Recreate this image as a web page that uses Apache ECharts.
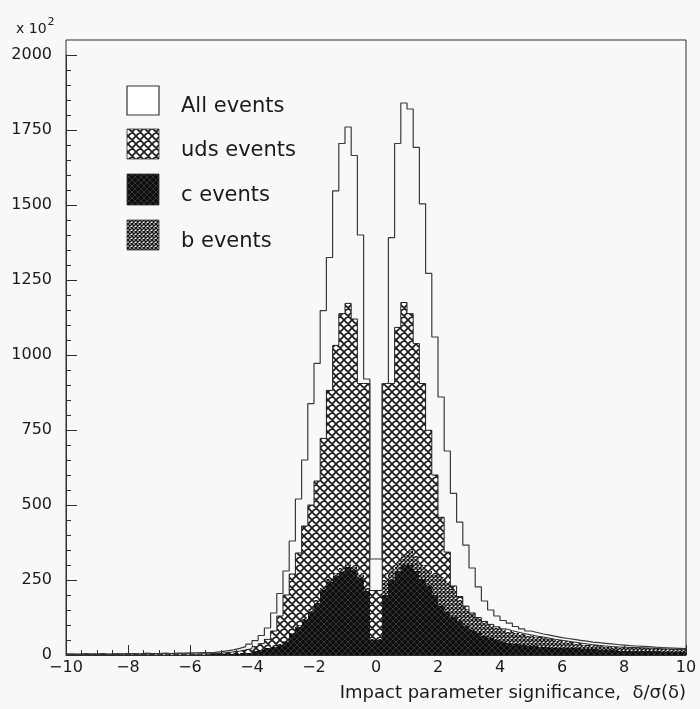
<!DOCTYPE html>
<html><head><meta charset="utf-8">
<script src="https://cdn.jsdelivr.net/npm/echarts/dist/echarts.min.js"></script>
<style>html,body{margin:0;padding:0;background:#f8f8f8;}#c{width:700px;height:709px;}</style>
</head><body><div id="c"></div>
<script>
// Histogram binning (100 bins of width 0.2 from -10 to 10)
const binStart = -10;
const binWidth = 0.2;

// Bin contents (x 10^2 events)
const allEvents = [
  4,3,5,4,4,5,3,5,4,5,
  5,4,6,5,5,6,5,6,6,7,
  7,8,8,9,11,14,17,22,28,36,
  48,65,90,140,205,280,380,520,650,838,
  972,1148,1325,1547,1705,1760,1665,1400,920,320,
  320,905,1391,1705,1840,1820,1692,1504,1272,1060,
  860,680,539,443,366,290,227,180,150,130,
  115,106,95,87,80,75,70,66,62,58,
  55,52,49,46,43,41,39,37,35,33,
  31,30,29,28,26,25,24,23,22,21
];
const udsEvents = [
  1,1,2,1,1,2,1,2,2,2,
  2,2,2,2,3,3,3,3,3,3,
  2,3,3,3,4,5,6,8,11,13,
  15,21,28,50,92,152,196,240,307,348,
  397,497,627,760,849,865,823,636,680,160,
  160,655,620,782,840,788,708,605,469,330,
  199,98,14,10,8,7,5,4,4,4,
  4,4,4,4,4,3,3,3,3,3,
  3,3,3,3,3,3,3,2,2,2,
  1,2,1,1,1,1,1,2,1,2
];
const cEvents = [
  0,1,0,1,1,0,1,0,1,1,
  1,1,1,1,1,1,1,1,1,1,
  1,1,1,2,2,3,4,5,6,8,
  12,16,22,28,35,45,70,95,117,145,
  175,216,245,262,278,295,285,258,215,50,
  50,200,250,280,300,300,280,255,230,200,
  165,145,128,112,98,85,73,64,57,51,
  45,40,37,34,31,29,27,26,25,24,
  23,23,22,21,20,19,18,17,16,15,
  14,14,13,13,12,12,11,11,10,10
];
const bEvents = [
  0,0,0,0,0,0,0,0,0,0,
  0,0,0,0,0,0,0,0,0,0,
  0,0,0,0,0,0,0,0,0,0,
  1,1,2,2,3,3,4,5,6,7,
  8,9,10,10,11,12,12,11,10,5,
  5,50,35,30,35,50,50,45,50,70,
  95,100,88,73,57,48,47,44,41,39,
  38,37,35,33,32,31,30,27,24,22,
  20,17,15,13,11,10,9,9,9,9,
  10,9,10,9,9,8,8,6,7,6
];
const legendLabels = ['All events', 'uds events', 'c events', 'b events'];
const xTitle = 'Impact parameter significance,  \u03b4/\u03c3(\u03b4)';

const FONT = '"DejaVu Sans", sans-serif';
const nBins = allEvents.length;
const edge = k => +(binStart + k * binWidth).toFixed(4);

function hatch(size, lw, color, bg) {
  const cv = document.createElement('canvas');
  cv.width = size; cv.height = size;
  const ctx = cv.getContext('2d');
  if (bg) { ctx.fillStyle = bg; ctx.fillRect(0, 0, size, size); }
  ctx.strokeStyle = color; ctx.lineWidth = lw;
  ctx.beginPath();
  for (const o of [-size, 0, size]) {
    ctx.moveTo(o, 0); ctx.lineTo(o + size, size);
    ctx.moveTo(o + size, 0); ctx.lineTo(o, size);
  }
  ctx.stroke();
  return { image: cv, repeat: 'repeat' };
}
const udsPat = hatch(8, 1.7, '#1e1e1e', '#f8f8f8');
const cPat = hatch(6, 1, '#333333', '#0e0e0e');
const bPat = hatch(4, 1.4, '#141414', '#ececec');

// cumulative stack: c at bottom, b above, uds on top
const lowC = [], highC = [], lowB = [], highB = [], lowU = [], highU = [];
for (let k = 0; k < nBins; k++) {
  lowC.push(0); highC.push(cEvents[k]);
  lowB.push(cEvents[k]); highB.push(cEvents[k] + bEvents[k]);
  lowU.push(cEvents[k] + bEvents[k]); highU.push(cEvents[k] + bEvents[k] + udsEvents[k]);
}

function fillSeries(low, high, pat, z) {
  const data = [];
  for (let k = 0; k < nBins; k++) data.push([edge(k), edge(k + 1), low[k], high[k]]);
  return {
    type: 'custom', xAxisIndex: 0, yAxisIndex: 0, z: z, clip: true,
    encode: { x: [0, 1], y: [2, 3] },
    data: data,
    renderItem: function (params, api) {
      const p0 = api.coord([api.value(0), api.value(3)]);
      const p1 = api.coord([api.value(1), api.value(2)]);
      const x0 = Math.round(p0[0]), x1 = Math.round(p1[0]);
      const y0 = Math.round(p0[1]), y1 = Math.round(p1[1]);
      if (y1 - y0 <= 0) return null;
      return { type: 'rect', shape: { x: x0, y: y0, width: x1 - x0, height: y1 - y0 }, style: { fill: pat } };
    }
  };
}
function stepData(arr) {
  const d = arr.map((v, k) => [edge(k), v]);
  d.push([edge(nBins), arr[nBins - 1]]);
  return d;
}

const chart = echarts.init(document.getElementById('c'), null, { renderer: 'canvas' });
const axisCol = '#2e2e2e';
const legendPats = [null, udsPat, cPat, bPat];
const legendBoxTop = [86, 129, 174, 220];
const legendBoxH = [29, 30, 31, 30];
const legendTextY = [106.5, 150.5, 195.5, 241.5];
const graphic = [];
for (let i = 0; i < 4; i++) {
  graphic.push({ type: 'rect', shape: { x: 127, y: legendBoxTop[i], width: 32, height: legendBoxH[i] },
    style: { fill: legendPats[i] || '#ffffff', stroke: '#333', lineWidth: i === 0 ? 1.2 : 0.8 }, z: 20 });
  graphic.push({ type: 'text', x: 181, y: legendTextY[i],
    style: { text: legendLabels[i], font: '21px ' + FONT, fill: '#1a1a1a', verticalAlign: 'middle' }, z: 20 });
}
graphic.push({ type: 'text', x: 686, y: 693, style: { text: xTitle, font: '18px ' + FONT, fill: '#1a1a1a', align: 'right', verticalAlign: 'middle' }, z: 20 });
graphic.push({ type: 'text', x: 16, y: 17,
  style: { text: '{a|x 10}{b|2}', fill: '#1a1a1a', verticalAlign: 'top',
    rich: { a: { fontSize: 14, fontFamily: FONT, padding: [5, 1, 0, 0] }, b: { fontSize: 11, fontFamily: FONT, verticalAlign: 'top', padding: [0, 0, 6, 0] } } }, z: 20 });

chart.setOption({
  animation: false,
  backgroundColor: '#f8f8f8',
  grid: [
    { left: 66, right: 14, top: 55, bottom: 54, show: false },
    { left: 66, right: 14, top: 40, bottom: 54, show: true, borderColor: axisCol, borderWidth: 1, backgroundColor: 'transparent' }
  ],
  xAxis: [
    { type: 'value', gridIndex: 0, min: -10, max: 10, interval: 2,
      axisLine: { show: true, onZero: false, lineStyle: { color: axisCol, width: 1 } },
      axisTick: { show: true, inside: true, length: 10, lineStyle: { color: axisCol } },
      minorTick: { show: true, splitNumber: 4, length: 5, lineStyle: { color: axisCol } },
      splitLine: { show: false },
      axisLabel: { margin: 5, color: '#1a1a1a', fontSize: 16, fontFamily: FONT,
        formatter: v => String(v).replace('-', '\u2212') } },
    { type: 'value', gridIndex: 1, show: false, min: 0, max: 1 }
  ],
  yAxis: [
    { type: 'value', gridIndex: 0, min: 0, max: 2000, interval: 250,
      axisLine: { show: true, onZero: false, lineStyle: { color: axisCol, width: 1 } },
      axisTick: { show: true, inside: true, length: 11, lineStyle: { color: axisCol } },
      minorTick: { show: true, splitNumber: 5, length: 5, lineStyle: { color: axisCol } },
      splitLine: { show: false },
      axisLabel: { margin: 14, color: '#1a1a1a', fontSize: 16, fontFamily: FONT, formatter: v => String(v) } },
    { type: 'value', gridIndex: 1, show: false, min: 0, max: 1 }
  ],
  series: [
    fillSeries(lowC, highC, cPat, 2),
    fillSeries(lowB, highB, bPat, 2),
    fillSeries(lowU, highU, udsPat, 2),
    { type: 'line', xAxisIndex: 0, yAxisIndex: 0, data: stepData(highU), step: 'end', symbol: 'none', z: 3,
      lineStyle: { color: '#222', width: 1 } },
    { type: 'line', xAxisIndex: 0, yAxisIndex: 0, data: stepData(allEvents), step: 'end', symbol: 'none', z: 4,
      lineStyle: { color: '#3a3a3a', width: 1.2 } }
  ],
  graphic: graphic
});
</script></body></html>
